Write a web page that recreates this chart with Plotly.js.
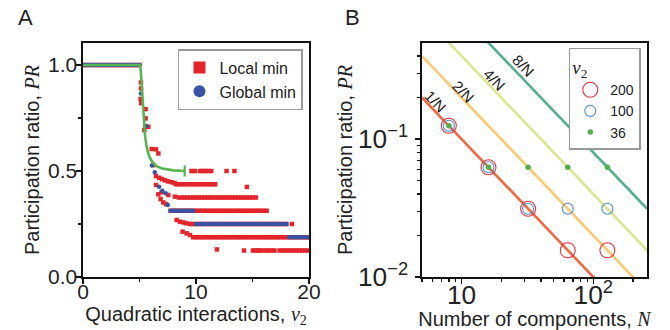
<!DOCTYPE html>
<html>
<head>
<meta charset="utf-8">
<script src="https://cdn.plot.ly/plotly-3.0.1.min.js"></script>
<style>html,body{margin:0;padding:0;background:#fff;}#chart{width:670px;height:330px;}</style>
</head>
<body>
<div id="chart"></div>
<script>
// ---------- Panel A data ----------
// Local minima (red squares)
const localTopX = [0,0.25,0.5,0.75,1,1.25,1.5,1.75,2,2.25,2.5,2.75,3,3.25,3.5,3.75,4,4.25,4.5,4.75,5];
const localTopLevel = 1.0;
const localLeadX = [5.13,5.13,5.1,5.15,5.54,5.54,5.43,5.78,5.5,6.08,6.46,6.67,6.23,6.46,6.75,7.0,7.26,7.55,7.85,8.1,6.46,6.96,7.55,8.14,6.67,6.87,7.1,7.35,8.29,8.58,8.9,9.17,8.81,9.17,9.47,14.5,18.5,11.85];
const localLeadY = [0.918,0.89,0.84,0.82,0.792,0.748,0.693,0.709,0.71,0.604,0.602,0.583,0.528,0.476,0.468,0.462,0.456,0.451,0.447,0.443,0.434,0.40,0.387,0.379,0.39,0.368,0.352,0.344,0.269,0.261,0.257,0.253,0.214,0.206,0.198,0.425,0.25,0.13];
const localHalfX = [9.6,9.9,10.35,10.6,10.85,11.1,11.35,12.7,13.4];
const localHalfLevel = 0.5;
const local716X = [8.25,8.5,8.75,9,9.25,9.5,9.75,10,10.25,10.5,10.75,11,11.25,11.5,11.7];
const local716Level = 0.4375;
const local616X = [8.5,8.75,9,9.25,9.5,9.75,10,10.25,10.5,10.75,11,11.25,11.5,11.75,12,12.25,12.5,12.75,13,13.25,13.5,13.75,14,14.25,14.5,14.75,15,15.3];
const local616Level = 0.375;
const local516X = [7.75,8,8.25,8.5,8.75,9,9.25,9.5,9.75,10,10.25,10.5,10.75,11,11.25,11.5,11.75,12,12.25,12.5,12.75,13,13.25,13.5,13.75,14,14.25,14.5,14.75,15,15.25,15.5,15.75,16,16.25];
const local516Level = 0.3125;
const local416X = [9.5,9.75,10,10.25,10.5,10.75,11,11.25,11.5,11.75,12,12.25,12.5,12.75,13,13.25,13.5,13.75,14,14.25,14.5,14.75,15,15.25,15.5,15.75,16,16.25,16.5,16.75,17,17.25,17.5,17.75,18];
const local416Level = 0.25;
const local316X = [9.75,10,10.25,10.5,10.75,11,11.25,11.5,11.75,12,12.25,12.5,12.75,13,13.25,13.5,13.75,14,14.25,14.5,14.75,15,15.25,15.5,15.75,16,16.25,16.5,16.75,17,17.25,17.5,17.75,18,18.25,18.5,18.75,19,19.25,19.5,19.75,20];
const local316Level = 0.1875;
const local216X = [14.25,15.05,15.25,15.45,15.65,15.85,16.2,16.45,16.7,16.95,17.4,17.65,17.9,18.15,18.4,18.65,18.9,19.15,19.4,19.65,19.9];
const local216Level = 0.125;

// Global minima (blue circles)
const globalTopX = [0,0.25,0.5,0.75,1,1.25,1.5,1.75,2,2.25,2.5,2.75,3,3.25,3.5,3.75,4,4.25,4.5,4.75,5];
const globalTopLevel = 1.0;
const globalLeadX = [5.13,5.6,6.1,6.35,6.73,7.02,7.31,7.5];
const globalLeadY = [0.866,0.712,0.526,0.494,0.426,0.407,0.395,0.34];
const global516X = [7.75,8,8.25,8.5,8.75,9,9.25,9.5,9.75];
const global516Level = 0.3125;
const global416X = [10,10.25,10.5,10.75,11,11.25,11.5,11.75,12,12.25,12.5,12.75,13,13.25,13.5,13.75,14,14.25,14.5,14.75,15,15.25,15.5,15.75,16,16.25,16.5,16.75,17,17.25,17.5,17.75,18];
const global416Level = 0.25;
const global316X = [18.25,18.5,18.75,19,19.25,19.5,19.75,20];
const global316Level = 0.1875;

// Green theory curve
const theoryX = [0,5.04,5.12,5.2,5.3,5.4,5.5,5.65,5.85,6.1,6.5,7.0,8.0,9.0];
const theoryY = [1,1,0.97,0.9,0.8,0.72,0.66,0.61,0.57,0.545,0.523,0.512,0.503,0.5];
const theoryErr = [0,0,0,0,0,0,0,0,0,0,0,0,0,0.026];

// ---------- Panel B data ----------
const compN = [8,16,32,64,128];
const pr200 = [0.125,0.0625,0.03125,0.015625,0.015625];
const pr100 = [0.125,0.0625,0.03125,0.03125,0.03125];
const pr36  = [0.125,0.0625,0.0625,0.0625,0.0625];
const refN = [5,256];
const ref1 = [0.2,0.00390625];
const ref2 = [0.4,0.0078125];
const ref4 = [0.8,0.015625];
const ref8 = [1.6,0.03125];
const refLabels = ['1/N','2/N','4/N','8/N'];

// ---------- build ----------
function lvl(xs, v){ return xs.map(function(){ return v; }); }
const localX = [].concat(localTopX, localLeadX, localHalfX, local716X, local616X, local516X, local416X, local316X, local216X);
const localY = [].concat(lvl(localTopX,localTopLevel), localLeadY, lvl(localHalfX,localHalfLevel), lvl(local716X,local716Level),
  lvl(local616X,local616Level), lvl(local516X,local516Level), lvl(local416X,local416Level), lvl(local316X,local316Level), lvl(local216X,local216Level));
const globalX = [].concat(globalTopX, globalLeadX, global516X, global416X, global316X);
const globalY = [].concat(lvl(globalTopX,globalTopLevel), globalLeadY, lvl(global516X,global516Level), lvl(global416X,global416Level), lvl(global316X,global316Level));

const RED = '#e3242b', BLUE = '#3953a4', GREEN = '#55b54e';
const FONT = 'Liberation Sans, Arial, Helvetica, sans-serif';
const SERIF = 'Liberation Serif, DejaVu Serif, serif';

const traces = [
  {x: localX, y: localY, type:'scatter', mode:'markers', name:'Local min', xaxis:'x', yaxis:'y', legend:'legend',
   marker:{symbol:'square', size:4.5, color:RED}},
  {x: globalX, y: globalY, type:'scatter', mode:'markers', name:'Global min', xaxis:'x', yaxis:'y', legend:'legend',
   marker:{symbol:'circle', size:4.5, color:BLUE}},
  {x: theoryX, y: theoryY, type:'scatter', mode:'lines', showlegend:false, xaxis:'x', yaxis:'y',
   line:{color:GREEN, width:2.6},
   error_y:{type:'data', array:theoryErr, symmetric:true, width:0, thickness:2.2, color:GREEN}},
  {x: refN, y: ref1, type:'scatter', mode:'lines', showlegend:false, xaxis:'x2', yaxis:'y2', line:{color:'#f26640', width:2.6}},
  {x: refN, y: ref2, type:'scatter', mode:'lines', showlegend:false, xaxis:'x2', yaxis:'y2', line:{color:'#fcc96e', width:2.6}},
  {x: refN, y: ref4, type:'scatter', mode:'lines', showlegend:false, xaxis:'x2', yaxis:'y2', line:{color:'#dbe690', width:2.6}},
  {x: refN, y: ref8, type:'scatter', mode:'lines', showlegend:false, xaxis:'x2', yaxis:'y2', line:{color:'#55b08e', width:2.6}},
  {x: compN, y: pr200, type:'scatter', mode:'markers', name:'200', xaxis:'x2', yaxis:'y2', legend:'legend2',
   marker:{symbol:'circle-open', size:15, color:'#e8323c', line:{width:1.1}}},
  {x: compN, y: pr100, type:'scatter', mode:'markers', name:'100', xaxis:'x2', yaxis:'y2', legend:'legend2',
   marker:{symbol:'circle-open', size:11, color:'#4a8fd2', line:{width:1.1}}},
  {x: compN, y: pr36, type:'scatter', mode:'markers', name:'36', xaxis:'x2', yaxis:'y2', legend:'legend2',
   marker:{symbol:'circle', size:5.5, color:'#4fb04a'}}
];

const axisCommon = {showgrid:false, zeroline:false, showline:true, mirror:true, linecolor:'#111', linewidth:1.6,
  ticks:'outside', ticklen:5, tickwidth:1.4, tickcolor:'#111', tickfont:{size:21, family:FONT, color:'#222'}};

const ann = [
  {text:'A', xref:'paper', yref:'paper', x:-0.102, y:1.111, xanchor:'center', yanchor:'middle', showarrow:false, font:{size:22, family:FONT, color:'#222'}},
  {text:'B', xref:'paper', yref:'paper', x:0.477, y:1.111, xanchor:'center', yanchor:'middle', showarrow:false, font:{size:22, family:FONT, color:'#222'}}
];
const labelPos = [[0.803,-0.725],[1.015,-0.652],[1.25,-0.565],[1.47,-0.464]];
refLabels.forEach(function(t,i){
  ann.push({text:t, xref:'x2', yref:'y2', x:labelPos[i][0], y:labelPos[i][1], showarrow:false, textangle:46,
    font:{size:15, family:FONT, color:'#222'}});
});

const layout = {
  width:670, height:330, margin:{l:83, r:23, t:43, b:53},
  paper_bgcolor:'#fff', plot_bgcolor:'#fff',
  font:{family:FONT, color:'#222'},
  xaxis: Object.assign({}, axisCommon, {domain:[0,0.4007], range:[0,20], dtick:10, ticklabelstandoff:-10,
    minor:{dtick:5, ticks:'outside', ticklen:3, tickcolor:'#111'},
    title:{text:'Quadratic interactions, <span style="font-family:Liberation Serif"><i>v</i><sub>2</sub></span>', font:{size:20, family:FONT}, standoff:3}}),
  yaxis: Object.assign({}, axisCommon, {domain:[0,1], range:[0,1.104], dtick:0.5, tickformat:'.1f', ticklabelstandoff:-5,
    minor:{dtick:0.25, ticks:'outside', ticklen:3, tickcolor:'#111'},
    title:{text:'Participation ratio, <span style="font-family:Liberation Serif"><i>PR</i></span>', font:{size:20, family:FONT}, standoff:3}}),
  xaxis2: Object.assign({}, axisCommon, {domain:[0.601,1], type:'log', range:[0.699,2.408], dtick:1, exponentformat:'power', ticklabelstandoff:-10,
    minor:{ticks:'outside', ticklen:3, tickcolor:'#111'},
    title:{text:'Number of components, <span style="font-family:Liberation Serif"><i>N</i></span>', font:{size:20, family:FONT}, standoff:12},
    anchor:'y2'}),
  yaxis2: Object.assign({}, axisCommon, {domain:[0,1], type:'log', range:[-2,-0.303], dtick:1, exponentformat:'power', ticklabelstandoff:3,
    minor:{ticks:'outside', ticklen:3, tickcolor:'#111'},
    title:{text:'Participation ratio, <span style="font-family:Liberation Serif"><i>PR</i></span>', font:{size:20, family:FONT}, standoff:0},
    anchor:'x2'}),
  legend:{x:0.39, y:0.974, xanchor:'right', yanchor:'top', bgcolor:'#fff', bordercolor:'#999', borderwidth:1.5,
    font:{size:16, family:FONT, color:'#222'}, itemsizing:'constant', tracegroupgap:0},
  legend2:{x:0.989, y:0.979, xanchor:'right', yanchor:'top', bgcolor:'#fff', bordercolor:'#999', borderwidth:1.5,
    font:{size:14, family:FONT, color:'#222'}, itemsizing:'trace', itemwidth:30, tracegroupgap:0,
    title:{text:'<i>v</i><sub>2</sub>', font:{size:19, family:SERIF, color:'#222'}}},
  annotations: ann,
  showlegend:true
};

Plotly.newPlot('chart', traces, layout, {staticPlot:true, displayModeBar:false});
</script>
</body>
</html>
